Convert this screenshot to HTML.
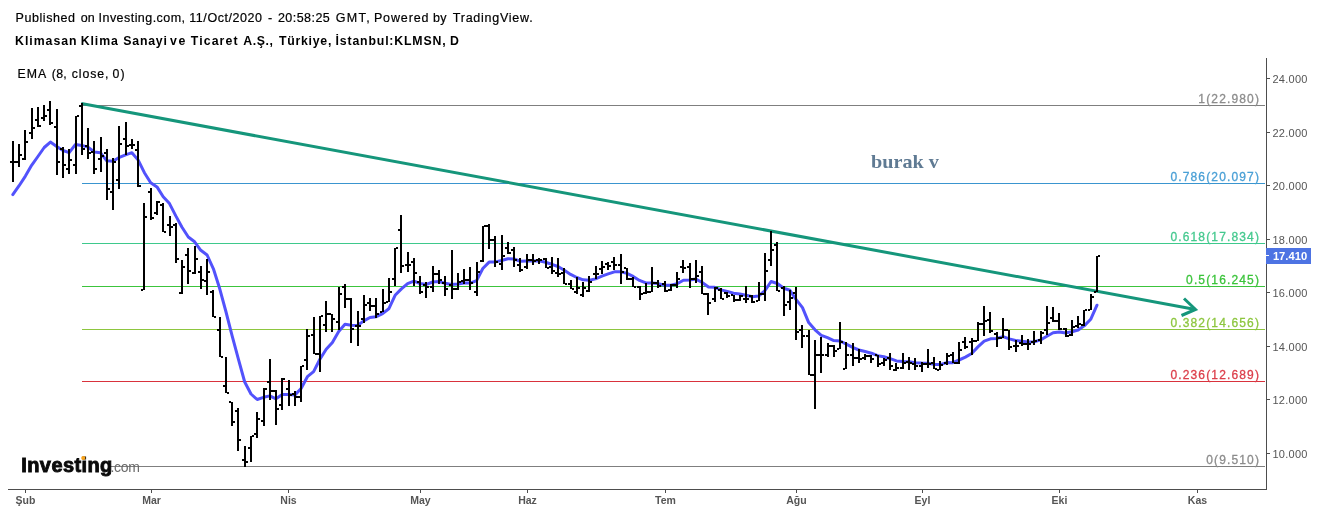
<!DOCTYPE html>
<html><head><meta charset="utf-8"><style>
html,body{margin:0;padding:0;background:#fff;}
body{width:1318px;height:513px;overflow:hidden;font-family:"Liberation Sans",sans-serif;}
svg{display:block;will-change:transform;}
</style></head><body>
<svg width="1318" height="513" viewBox="0 0 1318 513">
<rect width="1318" height="513" fill="#fff"/>
<rect x="82" y="105" width="1183" height="1" fill="#7f7f7f"/>
<rect x="82" y="183" width="1183" height="1" fill="#3a95cf"/>
<rect x="82" y="243" width="1183" height="1" fill="#3ec98c"/>
<rect x="82" y="286" width="1183" height="1" fill="#3cc43c"/>
<rect x="82" y="329" width="1183" height="1" fill="#8dc63f"/>
<rect x="82" y="381" width="1183" height="1" fill="#d9323c"/>
<rect x="108" y="466" width="1157" height="1" fill="#7f7f7f"/>
<path d="M81.3 103.6 L1195.5 309.5" stroke="#15967b" stroke-width="3" fill="none"/>
<path d="M1184 298.5 L1195.5 309.5 L1181.5 315.5" stroke="#15967b" stroke-width="3" fill="none" stroke-linejoin="miter"/>
<path d="M12.8 194.6 L19.1 185.7 L25.4 176.1 L31.6 165.3 L37.9 156.5 L44.2 147.5 L50.4 142.1 L56.7 146.4 L63.0 150.5 L69.2 152.6 L75.5 144.4 L81.8 145.4 L88.0 147.1 L94.3 152.0 L100.6 152.8 L106.8 160.8 L113.1 161.2 L119.4 157.3 L125.6 154.8 L131.9 152.7 L138.2 160.1 L144.4 172.7 L150.7 182.7 L157.0 186.9 L163.2 196.8 L169.5 203.6 L175.8 215.9 L182.0 227.2 L188.3 237.0 L194.6 241.8 L200.8 250.3 L207.1 255.0 L213.4 268.8 L219.6 288.3 L225.9 311.5 L232.2 336.1 L238.4 359.2 L244.7 382.0 L251.0 394.0 L257.2 399.5 L263.5 397.3 L269.8 395.9 L276.0 398.8 L282.3 394.4 L288.6 394.6 L294.8 395.1 L301.1 388.5 L307.4 376.7 L313.6 371.6 L319.9 359.2 L326.2 349.2 L332.4 342.4 L338.7 331.6 L345.0 324.3 L351.2 325.3 L357.5 325.5 L363.8 320.9 L370.0 317.5 L376.3 316.7 L382.6 313.6 L388.8 308.8 L395.1 295.3 L401.4 288.9 L407.6 283.6 L413.9 281.2 L420.2 283.5 L426.4 284.4 L432.7 282.0 L439.0 281.6 L445.2 283.3 L451.5 284.5 L457.8 283.9 L464.0 283.0 L470.3 283.1 L476.6 280.6 L482.8 268.5 L489.1 262.1 L495.4 261.9 L501.6 260.5 L507.9 258.8 L514.2 259.0 L520.4 261.3 L526.7 261.1 L533.0 261.0 L539.2 260.7 L545.5 262.3 L551.8 264.3 L558.0 266.5 L564.3 270.3 L570.6 274.4 L576.8 277.5 L583.1 279.8 L589.4 280.2 L595.6 278.9 L601.9 276.2 L608.2 273.9 L614.4 271.8 L620.7 271.8 L627.0 273.4 L633.2 276.4 L639.5 280.4 L645.8 282.9 L652.0 283.0 L658.3 283.6 L664.6 285.2 L670.9 285.2 L677.1 283.8 L683.4 280.2 L689.7 280.0 L695.9 279.1 L702.2 282.5 L708.5 287.0 L714.7 287.3 L721.0 289.9 L727.3 291.4 L733.5 293.3 L739.8 294.0 L746.1 295.2 L752.3 296.7 L758.6 296.1 L764.9 290.6 L771.1 281.5 L777.4 283.5 L783.7 288.3 L789.9 290.3 L796.2 299.6 L802.5 307.6 L808.7 322.6 L815.0 329.8 L821.3 335.3 L827.5 337.7 L833.8 340.6 L840.1 341.0 L846.3 344.1 L852.6 347.3 L858.9 350.0 L865.1 351.5 L871.4 353.2 L877.7 355.7 L883.9 356.7 L890.2 358.7 L896.5 360.9 L902.7 361.4 L909.0 361.7 L915.3 362.7 L921.5 363.1 L927.8 363.2 L934.1 364.4 L940.3 364.6 L946.6 362.6 L952.9 362.7 L959.1 360.0 L965.4 357.1 L971.7 353.5 L977.9 346.9 L984.2 341.1 L990.5 338.8 L996.7 338.5 L1003.0 336.6 L1009.3 338.9 L1015.5 340.5 L1021.8 341.3 L1028.1 341.9 L1034.3 341.7 L1040.6 339.9 L1046.9 336.2 L1053.1 332.8 L1059.4 331.9 L1065.7 332.9 L1071.9 331.7 L1078.2 330.0 L1084.5 325.6 L1090.7 319.3 L1097.0 305.2" fill="none" stroke="#5252fc" stroke-width="3" stroke-linejoin="round" stroke-linecap="round"/>
<path d="M12 141h2v41h-2z M10 161h2v2h-2z M14 161h2v2h-2z M18 144h2v23h-2z M16 161h2v2h-2z M20 154h2v2h-2z M24 130h2v30h-2z M22 158h2v2h-2z M26 141h2v2h-2z M31 108h2v31h-2z M29 132h2v2h-2z M33 127h2v2h-2z M37 107h2v20h-2z M35 119h2v2h-2z M39 125h2v2h-2z M43 105h2v16h-2z M41 117h2v2h-2z M45 115h2v2h-2z M49 101h2v24h-2z M47 109h2v2h-2z M51 122h2v2h-2z M56 109h2v66h-2z M54 126h2v2h-2z M58 161h2v2h-2z M62 147h2v31h-2z M60 148h2v2h-2z M64 164h2v2h-2z M68 149h2v25h-2z M66 168h2v2h-2z M70 159h2v2h-2z M75 116h2v58h-2z M73 164h2v2h-2z M77 115h2v2h-2z M81 103h2v52h-2z M79 105h2v2h-2z M83 148h2v2h-2z M87 128h2v31h-2z M85 145h2v2h-2z M89 152h2v2h-2z M93 141h2v33h-2z M91 151h2v2h-2z M95 168h2v2h-2z M100 137h2v35h-2z M98 158h2v2h-2z M102 155h2v2h-2z M106 149h2v51h-2z M104 152h2v2h-2z M108 188h2v2h-2z M112 158h2v52h-2z M110 191h2v2h-2z M114 161h2v2h-2z M118 126h2v63h-2z M116 179h2v2h-2z M120 143h2v2h-2z M125 122h2v33h-2z M123 138h2v2h-2z M127 145h2v2h-2z M131 139h2v10h-2z M129 144h2v2h-2z M133 144h2v2h-2z M137 141h2v46h-2z M135 149h2v2h-2z M139 185h2v2h-2z M143 203h2v87h-2z M141 289h2v2h-2z M145 216h2v2h-2z M150 188h2v32h-2z M148 191h2v2h-2z M152 217h2v2h-2z M156 201h2v14h-2z M154 212h2v2h-2z M158 201h2v2h-2z M162 203h2v29h-2z M160 204h2v2h-2z M164 231h2v2h-2z M169 216h2v20h-2z M167 224h2v2h-2z M171 226h2v2h-2z M175 223h2v40h-2z M173 224h2v2h-2z M177 258h2v2h-2z M181 260h2v34h-2z M179 292h2v2h-2z M183 266h2v2h-2z M187 248h2v36h-2z M185 254h2v2h-2z M189 270h2v2h-2z M194 246h2v28h-2z M192 272h2v2h-2z M196 258h2v2h-2z M200 266h2v23h-2z M198 271h2v2h-2z M202 279h2v2h-2z M206 259h2v36h-2z M204 280h2v2h-2z M208 271h2v2h-2z M212 290h2v27h-2z M210 291h2v2h-2z M214 316h2v2h-2z M219 317h2v40h-2z M217 329h2v2h-2z M221 356h2v2h-2z M225 357h2v36h-2z M223 385h2v2h-2z M227 392h2v2h-2z M231 402h2v24h-2z M229 401h2v2h-2z M233 421h2v2h-2z M237 408h2v43h-2z M235 410h2v2h-2z M239 439h2v2h-2z M244 446h2v21h-2z M242 459h2v2h-2z M246 461h2v2h-2z M250 436h2v26h-2z M248 447h2v2h-2z M252 435h2v2h-2z M256 412h2v26h-2z M254 433h2v2h-2z M258 418h2v2h-2z M263 388h2v38h-2z M261 420h2v2h-2z M265 388h2v2h-2z M269 359h2v41h-2z M267 381h2v2h-2z M271 390h2v2h-2z M275 390h2v35h-2z M273 390h2v2h-2z M277 408h2v2h-2z M281 378h2v32h-2z M279 404h2v2h-2z M283 378h2v2h-2z M288 380h2v26h-2z M286 388h2v2h-2z M290 394h2v2h-2z M294 391h2v15h-2z M292 393h2v2h-2z M296 396h2v2h-2z M300 366h2v36h-2z M298 396h2v2h-2z M302 365h2v2h-2z M306 329h2v41h-2z M304 359h2v2h-2z M308 335h2v2h-2z M313 317h2v37h-2z M311 334h2v2h-2z M315 353h2v2h-2z M319 316h2v56h-2z M317 353h2v2h-2z M321 315h2v2h-2z M325 301h2v31h-2z M323 324h2v2h-2z M327 313h2v2h-2z M331 314h2v18h-2z M329 313h2v2h-2z M333 318h2v2h-2z M338 287h2v43h-2z M336 321h2v2h-2z M340 293h2v2h-2z M344 284h2v24h-2z M342 286h2v2h-2z M346 298h2v2h-2z M350 298h2v45h-2z M348 298h2v2h-2z M352 328h2v2h-2z M357 311h2v35h-2z M355 325h2v2h-2z M359 325h2v2h-2z M363 295h2v28h-2z M361 318h2v2h-2z M365 304h2v2h-2z M369 298h2v13h-2z M367 302h2v2h-2z M371 305h2v2h-2z M375 298h2v20h-2z M373 305h2v2h-2z M377 313h2v2h-2z M382 289h2v23h-2z M380 311h2v2h-2z M384 302h2v2h-2z M388 278h2v24h-2z M386 301h2v2h-2z M390 291h2v2h-2z M394 248h2v38h-2z M392 278h2v2h-2z M396 247h2v2h-2z M400 215h2v58h-2z M398 229h2v2h-2z M402 265h2v2h-2z M407 252h2v20h-2z M405 264h2v2h-2z M409 264h2v2h-2z M413 258h2v28h-2z M411 261h2v2h-2z M415 272h2v2h-2z M419 276h2v18h-2z M417 281h2v2h-2z M421 291h2v2h-2z M425 282h2v16h-2z M423 284h2v2h-2z M427 286h2v2h-2z M432 266h2v26h-2z M430 286h2v2h-2z M434 273h2v2h-2z M438 270h2v14h-2z M436 273h2v2h-2z M440 279h2v2h-2z M444 276h2v20h-2z M442 282h2v2h-2z M446 288h2v2h-2z M451 250h2v49h-2z M449 284h2v2h-2z M453 288h2v2h-2z M457 273h2v17h-2z M455 288h2v2h-2z M459 281h2v2h-2z M463 269h2v15h-2z M461 280h2v2h-2z M465 279h2v2h-2z M469 267h2v23h-2z M467 279h2v2h-2z M471 282h2v2h-2z M476 262h2v34h-2z M474 291h2v2h-2z M478 271h2v2h-2z M482 226h2v36h-2z M480 260h2v2h-2z M484 225h2v2h-2z M488 224h2v25h-2z M486 225h2v2h-2z M490 239h2v2h-2z M494 236h2v31h-2z M492 239h2v2h-2z M496 261h2v2h-2z M501 235h2v35h-2z M499 263h2v2h-2z M503 255h2v2h-2z M507 242h2v12h-2z M505 247h2v2h-2z M509 252h2v2h-2z M513 247h2v20h-2z M511 249h2v2h-2z M515 259h2v2h-2z M519 258h2v14h-2z M517 264h2v2h-2z M521 269h2v2h-2z M526 254h2v15h-2z M524 266h2v2h-2z M528 259h2v2h-2z M532 254h2v11h-2z M530 259h2v2h-2z M534 260h2v2h-2z M538 258h2v6h-2z M536 259h2v2h-2z M540 259h2v2h-2z M545 258h2v10h-2z M543 258h2v2h-2z M547 267h2v2h-2z M551 257h2v17h-2z M549 266h2v2h-2z M553 270h2v2h-2z M557 258h2v19h-2z M555 272h2v2h-2z M559 273h2v2h-2z M563 268h2v16h-2z M561 272h2v2h-2z M565 283h2v2h-2z M570 280h2v9h-2z M568 283h2v2h-2z M572 288h2v2h-2z M576 277h2v17h-2z M574 291h2v2h-2z M578 287h2v2h-2z M582 282h2v15h-2z M580 294h2v2h-2z M584 287h2v2h-2z M588 276h2v16h-2z M586 290h2v2h-2z M590 281h2v2h-2z M595 266h2v13h-2z M593 273h2v2h-2z M597 273h2v2h-2z M601 261h2v13h-2z M599 268h2v2h-2z M603 266h2v2h-2z M607 262h2v8h-2z M605 263h2v2h-2z M609 265h2v2h-2z M613 257h2v13h-2z M611 261h2v2h-2z M615 264h2v2h-2z M620 254h2v30h-2z M618 264h2v2h-2z M622 271h2v2h-2z M626 268h2v12h-2z M624 267h2v2h-2z M628 278h2v2h-2z M632 277h2v10h-2z M630 278h2v2h-2z M634 286h2v2h-2z M639 286h2v14h-2z M637 286h2v2h-2z M641 293h2v2h-2z M645 283h2v11h-2z M643 292h2v2h-2z M647 291h2v2h-2z M651 267h2v25h-2z M649 291h2v2h-2z M653 282h2v2h-2z M657 280h2v8h-2z M655 282h2v2h-2z M659 285h2v2h-2z M664 281h2v11h-2z M662 283h2v2h-2z M666 290h2v2h-2z M670 284h2v7h-2z M668 289h2v2h-2z M672 284h2v2h-2z M676 272h2v16h-2z M674 284h2v2h-2z M678 278h2v2h-2z M682 260h2v13h-2z M680 266h2v2h-2z M684 267h2v2h-2z M689 263h2v25h-2z M687 266h2v2h-2z M691 278h2v2h-2z M695 260h2v23h-2z M693 278h2v2h-2z M697 275h2v2h-2z M701 266h2v28h-2z M699 271h2v2h-2z M703 293h2v2h-2z M707 293h2v22h-2z M705 293h2v2h-2z M709 302h2v2h-2z M714 287h2v15h-2z M712 298h2v2h-2z M716 287h2v2h-2z M720 288h2v11h-2z M718 289h2v2h-2z M722 298h2v2h-2z M726 292h2v6h-2z M724 292h2v2h-2z M728 295h2v2h-2z M733 295h2v7h-2z M731 294h2v2h-2z M735 299h2v2h-2z M739 295h2v6h-2z M737 299h2v2h-2z M741 295h2v2h-2z M745 286h2v17h-2z M743 298h2v2h-2z M747 298h2v2h-2z M751 295h2v8h-2z M749 295h2v2h-2z M753 301h2v2h-2z M758 282h2v19h-2z M756 300h2v2h-2z M760 293h2v2h-2z M764 253h2v48h-2z M762 293h2v2h-2z M766 270h2v2h-2z M770 231h2v35h-2z M768 259h2v2h-2z M772 249h2v2h-2z M776 242h2v49h-2z M774 244h2v2h-2z M778 290h2v2h-2z M783 286h2v30h-2z M781 287h2v2h-2z M785 304h2v2h-2z M789 290h2v20h-2z M787 301h2v2h-2z M791 297h2v2h-2z M795 287h2v53h-2z M793 292h2v2h-2z M797 331h2v2h-2z M801 325h2v23h-2z M799 329h2v2h-2z M803 335h2v2h-2z M808 330h2v45h-2z M806 335h2v2h-2z M810 374h2v2h-2z M814 340h2v69h-2z M812 374h2v2h-2z M816 354h2v2h-2z M820 337h2v36h-2z M818 354h2v2h-2z M822 354h2v2h-2z M827 343h2v14h-2z M825 354h2v2h-2z M829 345h2v2h-2z M833 345h2v12h-2z M831 345h2v2h-2z M835 350h2v2h-2z M839 322h2v27h-2z M837 348h2v2h-2z M841 341h2v2h-2z M845 342h2v27h-2z M843 368h2v2h-2z M847 354h2v2h-2z M852 343h2v23h-2z M850 354h2v2h-2z M854 357h2v2h-2z M858 349h2v14h-2z M856 357h2v2h-2z M860 358h2v2h-2z M864 354h2v6h-2z M862 357h2v2h-2z M866 355h2v2h-2z M870 355h2v8h-2z M868 355h2v2h-2z M872 358h2v2h-2z M877 355h2v12h-2z M875 354h2v2h-2z M879 363h2v2h-2z M883 358h2v8h-2z M881 362h2v2h-2z M885 359h2v2h-2z M889 353h2v17h-2z M887 357h2v2h-2z M891 365h2v2h-2z M895 363h2v8h-2z M893 369h2v2h-2z M897 367h2v2h-2z M902 353h2v16h-2z M900 367h2v2h-2z M904 362h2v2h-2z M908 357h2v13h-2z M906 361h2v2h-2z M910 362h2v2h-2z M914 358h2v12h-2z M912 363h2v2h-2z M916 365h2v2h-2z M921 362h2v10h-2z M919 365h2v2h-2z M923 363h2v2h-2z M927 349h2v19h-2z M925 363h2v2h-2z M929 363h2v2h-2z M933 357h2v12h-2z M931 362h2v2h-2z M935 368h2v2h-2z M939 361h2v9h-2z M937 369h2v2h-2z M941 364h2v2h-2z M946 353h2v12h-2z M944 362h2v2h-2z M948 355h2v2h-2z M952 352h2v11h-2z M950 354h2v2h-2z M954 362h2v2h-2z M958 342h2v22h-2z M956 362h2v2h-2z M960 349h2v2h-2z M964 337h2v12h-2z M962 341h2v2h-2z M966 346h2v2h-2z M971 338h2v17h-2z M969 341h2v2h-2z M973 340h2v2h-2z M977 322h2v19h-2z M975 340h2v2h-2z M979 323h2v2h-2z M983 306h2v30h-2z M981 323h2v2h-2z M985 320h2v2h-2z M989 312h2v21h-2z M987 319h2v2h-2z M991 330h2v2h-2z M996 332h2v15h-2z M994 333h2v2h-2z M998 337h2v2h-2z M1002 318h2v20h-2z M1000 337h2v2h-2z M1004 329h2v2h-2z M1008 330h2v20h-2z M1006 329h2v2h-2z M1010 346h2v2h-2z M1015 340h2v12h-2z M1013 345h2v2h-2z M1017 345h2v2h-2z M1021 335h2v11h-2z M1019 342h2v2h-2z M1023 343h2v2h-2z M1027 339h2v11h-2z M1025 343h2v2h-2z M1029 343h2v2h-2z M1033 331h2v14h-2z M1031 341h2v2h-2z M1035 340h2v2h-2z M1040 331h2v13h-2z M1038 339h2v2h-2z M1042 332h2v2h-2z M1046 306h2v29h-2z M1044 329h2v2h-2z M1048 322h2v2h-2z M1052 307h2v15h-2z M1050 317h2v2h-2z M1054 320h2v2h-2z M1058 313h2v17h-2z M1056 320h2v2h-2z M1060 328h2v2h-2z M1065 328h2v9h-2z M1063 328h2v2h-2z M1067 335h2v2h-2z M1071 320h2v16h-2z M1069 334h2v2h-2z M1073 326h2v2h-2z M1077 316h2v12h-2z M1075 325h2v2h-2z M1079 323h2v2h-2z M1083 310h2v16h-2z M1081 324h2v2h-2z M1085 309h2v2h-2z M1090 294h2v16h-2z M1088 309h2v2h-2z M1092 296h2v2h-2z M1096 256h2v36h-2z M1094 291h2v2h-2z M1098 255h2v2h-2z" fill="#000"/>
<text x="1260.1" y="102.5" text-anchor="end" fill="#8c8c8c" stroke="#8c8c8c" stroke-width="0.3" font-size="12" letter-spacing="1.15" font-family="Liberation Sans">1(22.980)</text>
<text x="1260.1" y="180.5" text-anchor="end" fill="#4aa0d6" stroke="#4aa0d6" stroke-width="0.3" font-size="12" letter-spacing="1.15" font-family="Liberation Sans">0.786(20.097)</text>
<text x="1260.1" y="240.5" text-anchor="end" fill="#45c98f" stroke="#45c98f" stroke-width="0.3" font-size="12" letter-spacing="1.15" font-family="Liberation Sans">0.618(17.834)</text>
<text x="1260.1" y="283.5" text-anchor="end" fill="#3cc43c" stroke="#3cc43c" stroke-width="0.3" font-size="12" letter-spacing="1.15" font-family="Liberation Sans">0.5(16.245)</text>
<text x="1260.1" y="326.5" text-anchor="end" fill="#8dc63f" stroke="#8dc63f" stroke-width="0.3" font-size="12" letter-spacing="1.15" font-family="Liberation Sans">0.382(14.656)</text>
<text x="1260.1" y="378.5" text-anchor="end" fill="#dc3f4b" stroke="#dc3f4b" stroke-width="0.3" font-size="12" letter-spacing="1.15" font-family="Liberation Sans">0.236(12.689)</text>
<text x="1260.1" y="463.5" text-anchor="end" fill="#8c8c8c" stroke="#8c8c8c" stroke-width="0.3" font-size="12" letter-spacing="1.15" font-family="Liberation Sans">0(9.510)</text>
<rect x="1266" y="58" width="1" height="432" fill="#4d4d4d"/>
<rect x="8" y="489" width="1259" height="1" fill="#4d4d4d"/>
<rect x="1267" y="78" width="3" height="1" fill="#4d4d4d"/>
<text x="1272.5" y="83" fill="#555" font-size="11" letter-spacing="0.25" font-family="Liberation Sans">24.000</text>
<rect x="1267" y="132" width="3" height="1" fill="#4d4d4d"/>
<text x="1272.5" y="137" fill="#555" font-size="11" letter-spacing="0.25" font-family="Liberation Sans">22.000</text>
<rect x="1267" y="185" width="3" height="1" fill="#4d4d4d"/>
<text x="1272.5" y="190" fill="#555" font-size="11" letter-spacing="0.25" font-family="Liberation Sans">20.000</text>
<rect x="1267" y="239" width="3" height="1" fill="#4d4d4d"/>
<text x="1272.5" y="244" fill="#555" font-size="11" letter-spacing="0.25" font-family="Liberation Sans">18.000</text>
<rect x="1267" y="292" width="3" height="1" fill="#4d4d4d"/>
<text x="1272.5" y="297" fill="#555" font-size="11" letter-spacing="0.25" font-family="Liberation Sans">16.000</text>
<rect x="1267" y="346" width="3" height="1" fill="#4d4d4d"/>
<text x="1272.5" y="351" fill="#555" font-size="11" letter-spacing="0.25" font-family="Liberation Sans">14.000</text>
<rect x="1267" y="399" width="3" height="1" fill="#4d4d4d"/>
<text x="1272.5" y="404" fill="#555" font-size="11" letter-spacing="0.25" font-family="Liberation Sans">12.000</text>
<rect x="1267" y="453" width="3" height="1" fill="#4d4d4d"/>
<text x="1272.5" y="458" fill="#555" font-size="11" letter-spacing="0.25" font-family="Liberation Sans">10.000</text>
<rect x="25" y="490" width="1" height="3" fill="#4d4d4d"/>
<text x="25.5" y="503.8" text-anchor="middle" fill="#555" font-size="10.5" font-weight="bold" font-family="Liberation Sans">Şub</text>
<rect x="151" y="490" width="1" height="3" fill="#4d4d4d"/>
<text x="151.5" y="503.8" text-anchor="middle" fill="#555" font-size="10.5" font-weight="bold" font-family="Liberation Sans">Mar</text>
<rect x="288" y="490" width="1" height="3" fill="#4d4d4d"/>
<text x="288.5" y="503.8" text-anchor="middle" fill="#555" font-size="10.5" font-weight="bold" font-family="Liberation Sans">Nis</text>
<rect x="420" y="490" width="1" height="3" fill="#4d4d4d"/>
<text x="420.5" y="503.8" text-anchor="middle" fill="#555" font-size="10.5" font-weight="bold" font-family="Liberation Sans">May</text>
<rect x="527" y="490" width="1" height="3" fill="#4d4d4d"/>
<text x="527.5" y="503.8" text-anchor="middle" fill="#555" font-size="10.5" font-weight="bold" font-family="Liberation Sans">Haz</text>
<rect x="665" y="490" width="1" height="3" fill="#4d4d4d"/>
<text x="665.5" y="503.8" text-anchor="middle" fill="#555" font-size="10.5" font-weight="bold" font-family="Liberation Sans">Tem</text>
<rect x="796" y="490" width="1" height="3" fill="#4d4d4d"/>
<text x="796.5" y="503.8" text-anchor="middle" fill="#555" font-size="10.5" font-weight="bold" font-family="Liberation Sans">Ağu</text>
<rect x="922" y="490" width="1" height="3" fill="#4d4d4d"/>
<text x="922.5" y="503.8" text-anchor="middle" fill="#555" font-size="10.5" font-weight="bold" font-family="Liberation Sans">Eyl</text>
<rect x="1059" y="490" width="1" height="3" fill="#4d4d4d"/>
<text x="1059.5" y="503.8" text-anchor="middle" fill="#555" font-size="10.5" font-weight="bold" font-family="Liberation Sans">Eki</text>
<rect x="1197" y="490" width="1" height="3" fill="#4d4d4d"/>
<text x="1197.5" y="503.8" text-anchor="middle" fill="#555" font-size="10.5" font-weight="bold" font-family="Liberation Sans">Kas</text>
<rect x="1266" y="248" width="45" height="16" fill="#4d73e3"/>
<rect x="1266" y="255" width="3" height="1" fill="#fff"/>
<text x="1290" y="260" text-anchor="middle" fill="#fff" font-size="11.2" font-weight="bold" font-family="Liberation Sans">17.410</text>
<text transform="translate(871 167.9) scale(1.01 0.905)" x="0" y="0" fill="#5f7a93" font-size="20" font-weight="bold" font-family="Liberation Serif">burak v</text>
<text y="22" fill="#000" stroke="#000" stroke-width="0.2" font-size="12.5" font-family="Liberation Sans"><tspan x="15.6" letter-spacing="0.56">Published</tspan><tspan x="80.7" letter-spacing="0">on</tspan><tspan x="98.6" letter-spacing="0.45">Investing.com,</tspan><tspan x="189.3" letter-spacing="0.55">11/Oct/2020</tspan><tspan x="267.9" letter-spacing="0">-</tspan><tspan x="277.9" letter-spacing="0.46">20:58:25</tspan><tspan x="335.7" letter-spacing="1.4">GMT,</tspan><tspan x="373.9" letter-spacing="0.87">Powered</tspan><tspan x="433.1" letter-spacing="0.3">by</tspan><tspan x="452.8" letter-spacing="0.75">TradingView.</tspan></text>
<text y="44.8" fill="#000" font-size="12.3" font-weight="bold" font-family="Liberation Sans"><tspan x="15.1" letter-spacing="0.97">Klimasan</tspan><tspan x="80.8" letter-spacing="0.88">Klima</tspan><tspan x="123.3" letter-spacing="0.78">Sanayi</tspan><tspan x="170.1" letter-spacing="1.5">ve</tspan><tspan x="190.8" letter-spacing="1.1">Ticaret</tspan><tspan x="243.3" letter-spacing="0.6">A.Ş.,</tspan><tspan x="279" letter-spacing="0.74">Türkiye,</tspan><tspan x="335.6" letter-spacing="0.83">İstanbul:KLMSN,</tspan><tspan x="450" letter-spacing="0">D</tspan></text>
<text y="77.8" fill="#000" stroke="#000" stroke-width="0.2" font-size="12.3" font-family="Liberation Sans"><tspan x="17.6" letter-spacing="1.0">EMA</tspan><tspan x="51.8" letter-spacing="0.3">(8,</tspan><tspan x="71.7" letter-spacing="0.92">close,</tspan><tspan x="112.4" letter-spacing="1.2">0)</tspan></text>
<text x="21.3" y="472.2" fill="#0a0a0a" stroke="#0a0a0a" stroke-width="0.9" font-size="20" font-weight="bold" letter-spacing="0.4" font-family="Liberation Sans">Investing</text>
<text x="110.5" y="472.2" fill="#6a6a6a" font-size="14" letter-spacing="-0.3" font-family="Liberation Sans">.com</text>
<circle cx="83.3" cy="458" r="2.1" fill="#f7a21b"/>
</svg>
</body></html>
